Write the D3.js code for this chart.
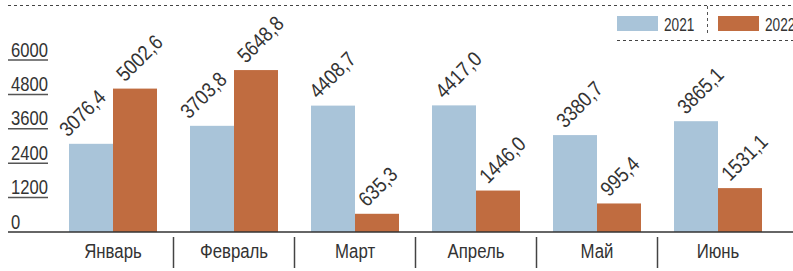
<!DOCTYPE html>
<html><head><meta charset="utf-8">
<script src="https://cdn.jsdelivr.net/npm/d3@7"></script>
<style>
html,body{margin:0;padding:0;background:#fff;}
svg{display:block;}
text{font-family:"Liberation Sans",Arial,sans-serif;fill:#333;}
</style></head>
<body>
<svg id="c" width="793" height="271"></svg>
<script>
const months = ["Январь","Февраль","Март","Апрель","Май","Июнь"];
const seriesNames = ["2021","2022"];
const values2021 = [3076.4, 3703.8, 4408.7, 4417.0, 3380.7, 3865.1];
const values2022 = [5002.6, 5648.8, 635.3, 1446.0, 995.4, 1531.1];
const yTicks = [0, 1200, 2400, 3600, 4800, 6000];
const colors = ["#a9c4d9", "#c06c40"];

const svg = d3.select("#c");
const W = 793, H = 271;
const y = d3.scaleLinear().domain([0, 6000]).range([232, 60]);
const x0 = d3.scaleBand().domain(months).range([52.5, 778.5]).paddingInner(0.2727).paddingOuter(0.13635);
const x1 = d3.scaleBand().domain(seriesNames).range([0, x0.bandwidth()]);
const fmt = v => v.toFixed(1).replace(".", ",");

// condensed text helper
function ctext(parent, x, yy, str, size, opts = {}) {
  const rot = opts.rotate || 0, sx = opts.sx || 0.8;
  return parent.append("text")
    .attr("transform", `translate(${x},${yy}) rotate(${rot}) scale(${sx},1)`)
    .attr("font-size", size)
    .attr("text-anchor", opts.anchor || "start")
    .text(str);
}

// top dashed line
svg.append("line").attr("x1", 8).attr("x2", W).attr("y1", 5.5).attr("y2", 5.5)
  .attr("stroke", "#444").attr("stroke-width", 1).attr("stroke-dasharray", "3,3");

// y ticks: label with underline
const yt = svg.append("g");
yTicks.forEach(t => {
  if (t !== 0) {
    yt.append("line").attr("x1", 8).attr("x2", 48).attr("y1", y(t)).attr("y2", y(t))
      .attr("stroke", "#555").attr("stroke-width", 1.5);
  }
  ctext(yt, 11, y(t) - 3.5, t, 21, {sx: 0.79});
});

// bars
const data = months.map((m, i) => ({m, vals: [values2021[i], values2022[i]]}));
const g = svg.append("g");
data.forEach(d => {
  d.vals.forEach((v, j) => {
    const bx = x0(d.m) + x1(seriesNames[j]);
    g.append("rect").attr("x", bx).attr("y", y(v)).attr("width", x1.bandwidth())
      .attr("height", y(0) - y(v)).attr("fill", colors[j]);
  });
});
// value labels
data.forEach(d => {
  d.vals.forEach((v, j) => {
    const cx = x0(d.m) + x1(seriesNames[j]) + x1.bandwidth() / 2;
    let dx = -10;
    if (j === 0 && d.vals[1] > v) dx = -23;
    else if (j === 0 && v - d.vals[1] > 3000) dx = -15;
    ctext(g, cx + dx, y(v) - 6, fmt(v), 21, {rotate: -45, sx: 0.86});
  });
});

// baseline axis
svg.append("line").attr("x1", 8).attr("x2", W).attr("y1", 232).attr("y2", 232)
  .attr("stroke", "#333").attr("stroke-width", 1.5);

// separators
months.slice(1).forEach(m => {
  const sx = Math.round(x0(m) - x0.step() * x0.paddingInner() / 2) - 1 + 0.5;
  svg.append("line").attr("x1", sx).attr("x2", sx).attr("y1", 237).attr("y2", 268)
    .attr("stroke", "#444").attr("stroke-width", 1.5);
});

// category labels
months.forEach(m => {
  ctext(svg, x0(m) + x0.bandwidth() / 2, 258, m, 21, {anchor: "middle", sx: 0.8});
});

// legend
const lg = svg.append("g");
const lx = [617, 718];
seriesNames.forEach((s, j) => {
  lg.append("rect").attr("x", lx[j]).attr("y", 16).attr("width", 41).attr("height", 15).attr("fill", colors[j]);
  ctext(lg, lx[j] + 47, 30.5, s, 18, {sx: 0.76});
});
lg.append("line").attr("x1", 707.5).attr("x2", 707.5).attr("y1", 6).attr("y2", 35)
  .attr("stroke", "#555").attr("stroke-dasharray", "3,3");
lg.append("line").attr("x1", 617).attr("x2", W).attr("y1", 40.5).attr("y2", 40.5)
  .attr("stroke", "#444").attr("stroke-dasharray", "3,3");
</script>
</body></html>
